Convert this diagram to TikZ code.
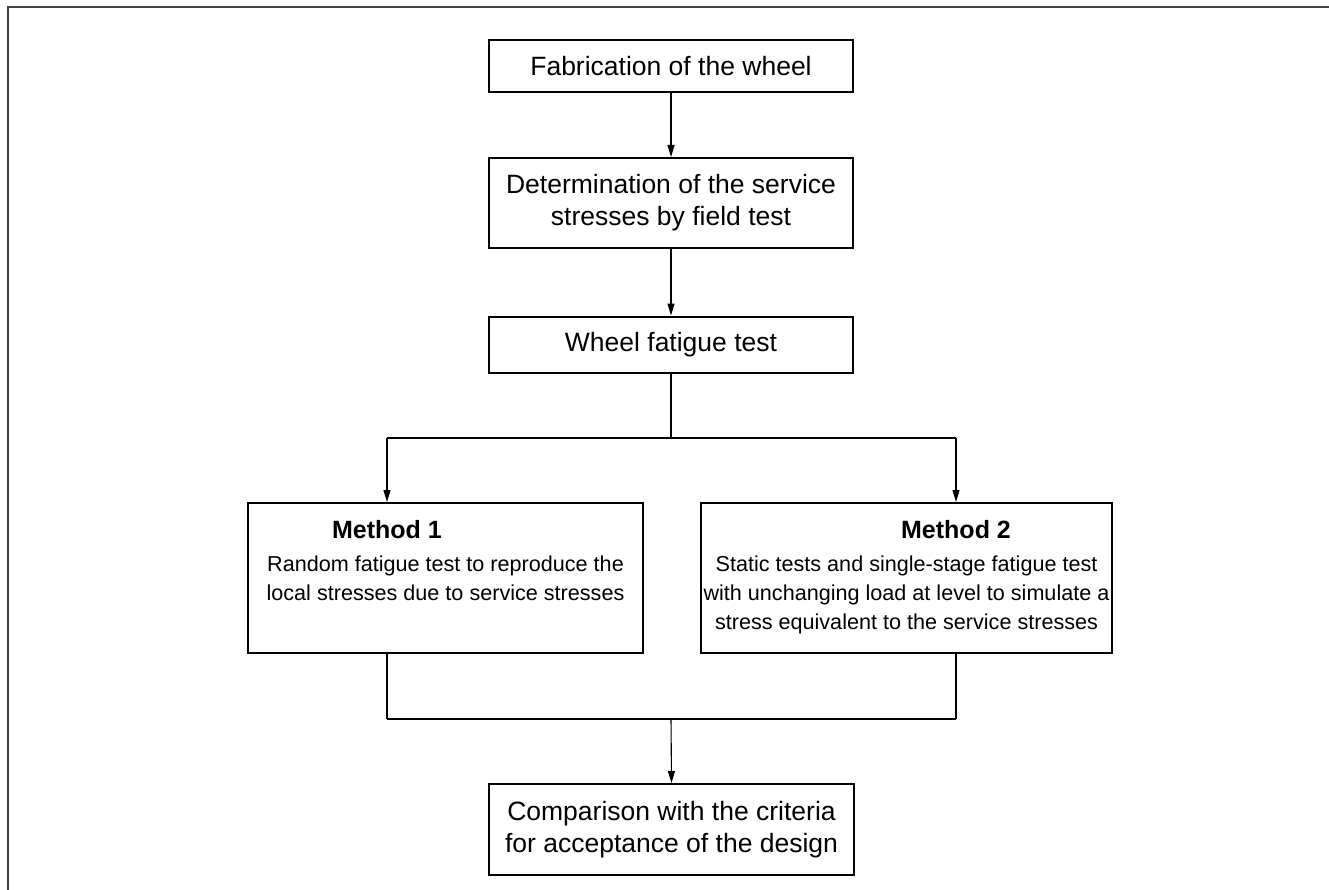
\documentclass[tikz,border=0pt]{standalone}
\usepackage{fontspec}
\setmainfont{Liberation Sans}
\usetikzlibrary{arrows.meta}
\begin{document}
\begin{tikzpicture}[x=1pt,y=1pt,
  box/.style={draw=black, line width=2pt, align=center, inner sep=0pt,
    font=\fontsize{26.5}{32}\selectfont, minimum width=364pt},
  head/.style={inner sep=0pt, font=\fontsize{25}{30}\selectfont\bfseries},
  body/.style={inner sep=0pt, font=\fontsize{21.6}{29}\selectfont},
  conn/.style={line width=1.1pt, draw=black},
  arr/.style={conn, -{Triangle[length=12pt,width=7pt]}},
  frameline/.style={line width=2pt, draw=black!75}]
\useasboundingbox (0,0) rectangle (1329,-890);
\draw[frameline] (8,-890) -- (8,-7) -- (1329,-7);

\node[box, minimum height=52pt] (b1) at (671,-66) {Fabrication of the wheel};
\node[box, minimum height=90pt] (b2) at (671,-203) {Determination of the service\\stresses by field test};
\node[box, minimum height=56pt] (b3) at (671,-344.5) {Wheel fatigue test};
\node[box, minimum width=395pt, minimum height=150pt] (m1) at (445.5,-578) {};
\node[box, minimum width=411pt, minimum height=150pt] (m2) at (906.5,-578) {};
\node[box, minimum width=365pt, minimum height=91pt] (b5) at (671.5,-829.5) {Comparison with the criteria\\for acceptance of the design};

\node[head, anchor=base] (m1h) at (387,-538) {Method 1};
\node[body, anchor=base] (m1t) at (445.5,-571) {\begin{tabular}[t]{@{}c@{}}Random fatigue test to reproduce the\\local stresses due to service stresses\end{tabular}};
\node[head, anchor=base] (m2h) at (956,-538) {Method 2};
\node[body, anchor=base] (m2t) at (906.5,-571) {\begin{tabular}[t]{@{}c@{}}Static tests and single-stage fatigue test\\with unchanging load at level to simulate a\\stress equivalent to the service stresses\end{tabular}};

\coordinate (sp) at (671,-438);
\coordinate (sL) at (387,-438);
\coordinate (sR) at (956,-438);
\coordinate (jp) at (671,-719);
\coordinate (jL) at (387,-719);
\coordinate (jR) at (956,-719);

\draw[arr] (b1) -- (b2);
\draw[arr] (b2) -- (b3);
\draw[conn] (b3.south) -- (sp);
\draw[conn] (sL) -- (sR);
\draw[arr] (sL) -- (sL |- m1.north);
\draw[arr] (sR) -- (sR |- m2.north);
\draw[conn] (sL |- m1.south) -- (jL);
\draw[conn] (sR |- m2.south) -- (jR);
\draw[conn] (jL) -- (jR);
\draw[arr] (jp) -- (b5.north);
\end{tikzpicture}
\end{document}
